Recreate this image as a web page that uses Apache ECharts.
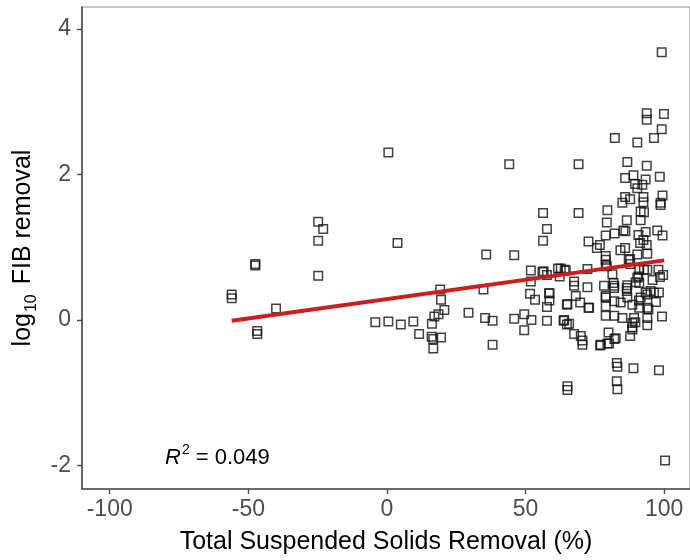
<!DOCTYPE html>
<html>
<head>
<meta charset="utf-8">
<script src="https://cdn.jsdelivr.net/npm/echarts@6/dist/echarts.min.js"></script>
<style>html,body{margin:0;padding:0;background:#fff}#chart{width:690px;height:560px}</style>
</head>
<body>
<div id="chart"></div>
<script>
// Total suspended solids removal (%)
const tssRemoval = [
  -56, -56, -47.5, -47.5, -46.8, -46.8, -40, -24.8, -23, -24.8, -24.8, 0.5, 3.8, -4.2, 0.5, 5, 9.5, 11.6,
  19.2, 19.5, 20.7, 18.6, 17.1, 16.2, 16.1, 16.7, 19.5, 16.7,
  29.4, 34.8, 35.4, 38.1, 38.1, 35.8, 45.9, 44.1, 45.9, 49.5, 49.5, 52.1, 51.9, 51.9, 51.6, 53.4, 56.1, 57.7,
  58.6, 58.6, 57.7, 57.7, 61.7, 62.3, 64.5, 64.9, 63.7, 64.9, 56.3, 57.7, 56.3, 69.1, 69.1, 65.1, 65.1,
  67.5, 67.5, 68.1, 69.7, 72.3, 72.3, 72.9, 67.5, 69.9, 70.5, 70.5, 72.7, 75.7, 76.8, 76.9, 79.9, 80.1, 82.5,
  82.9, 83.1, 88.9, 98.1, 82.9, 83.1, 100.3,
  99.1, 93.7, 93.7, 99.9, 99.1, 82.2, 90.3, 96.3, 86.7, 93.7, 98.4, 85.9, 88.9, 93.3, 89.5, 92.1, 90.3, 85.9,
  87.7, 92.5, 92.5, 99.4, 84.9, 98.7, 98.7, 79.5, 79.3, 86.5, 91.5, 91.5, 92.7, 86.0, 82.1, 78.9, 85.3, 90.7,
  93.3, 97.5, 99.4, 92.5, 91.3, 84.2, 85.9, 93.7, 90.3, 93.9, 78.9, 87.7, 87.7, 78.9, 78.9, 79.3, 87.2,
  91, 97.9, 92.7, 93.9, 98.5, 90.7, 81.3, 81.7, 86.7, 90.3, 91, 89.7, 78.3, 82, 86.5, 81.9, 86.5, 93.3, 96.3,
  98.1, 93.9, 95.1, 78.9, 78.9, 82, 84.3, 86.7, 88.5, 91.5, 91, 93.9, 94.3, 72.7, 78.9, 82, 84.9, 89.1, 93.9,
  88.5, 89.6, 93.9, 88.5, 87.7, 88.5, 82, 79.5, 77.1, 90.9, 78.9, 64.1, 62.7, 56.5, 58.5, 65.1, 63.9, 65.7,
  99.6, 99.2, 97.0, 95.8
];
// log10 FIB removal
const fibRemoval = [
  0.35, 0.30, 0.77, 0.75, -0.15, -0.19, 0.16, 1.35, 1.25, 1.09, 0.61, 2.30, 1.06, -0.03, -0.02, -0.06, -0.02, -0.19,
  0.42, 0.28, 0.14, 0.08, 0.05, -0.05, -0.23, -0.26, -0.24, -0.39,
  0.10, 0.42, 0.03, -0.01, -0.34, 0.90, 0.89, 2.14, 0.02, 0.08, -0.14, 0.00, 0.68, 0.53, 0.36, 0.28, 0.66, 0.62,
  0.37, 0.27, 0.18, -0.01, 0.71, 0.60, 0.68, 0.21, -0.01, -0.06, 1.47, 1.25, 1.09, 2.14, 1.47, -0.91, -0.96,
  0.53, 0.47, 0.33, 0.24, 0.70, 0.45, 0.17, -0.19, -0.22, -0.28, -0.34, 1.08, 0.99, 1.03, -0.35, -0.17, -0.32, -0.25,
  -0.59, -0.64, -0.66, -0.69, -0.84, -0.95, -1.93,
  3.68, 2.84, 2.75, 2.83, 2.62, 2.50, 2.44, 2.50, 2.17, 2.12, 1.97, 1.95, 1.99, 1.93, 1.87, 1.86, 1.81, 1.69,
  1.66, 1.69, 1.62, 1.71, 1.61, 1.61, 1.58, 1.51, 1.34, 1.37, 1.37, 1.49, 1.48, 1.22, 1.19, 1.16, 1.23, 1.17,
  1.21, 1.23, 1.16, 1.10, 1.06, 0.96, 0.99, 1.03, 0.90, 0.91, 0.88, 0.84, 0.77, 0.83, 0.76, 0.74, 0.83,
  0.69, 0.69, 0.69, 0.69, 0.59, 0.60, 0.63, 0.51, 0.48, 0.58, 0.51, 0.52, 0.47, 0.47, 0.44, 0.44, 0.40, 0.38, 0.38,
  0.38, 0.35, 0.40, 0.31, 0.19, 0.26, 0.24, 0.31, 0.21, 0.31, 0.17, 0.17, 0.15, 0.17, 0.06, 0.06, 0.03, 0.03, 0.03,
  -0.04, -0.03, -0.07, -0.10, -0.22, -0.13, -0.26, -0.32, -0.34, 0.27, 0.33, 0.69, 0.71, 0.67, 0.37, 0.22, 0.00, -0.05,
  0.62, 0.05, 0.25, 0.55
];
// fitted regression line end points
const fitX = [-56, 100];
const fitY = [-0.01, 0.82];
const xTicks = [-100, -50, 0, 50, 100];
const yTicks = [-2, 0, 2, 4];
const r2Label = '0.049';

const points = tssRemoval.map((x, i) => [x, fibRemoval[i]]);
const fitLine = fitX.map((x, i) => [x, fitY[i]]);

const chart = echarts.init(document.getElementById('chart'), null, {renderer: 'canvas'});
const font = 'Arial, "Liberation Sans", Helvetica, sans-serif';
chart.setOption({
  animation: false,
  backgroundColor: '#ffffff',
  grid: {left: 82, right: 0, top: 7, bottom: 67, show: true, borderColor: '#8c8c8c', borderWidth: 1, backgroundColor: '#ffffff'},
  xAxis: {
    type: 'value', min: -110, max: 109.3,
    axisLine: {show: true, onZero: false, lineStyle: {color: '#4d4d4d', width: 1.6}},
    axisTick: {show: true, length: 5, customValues: xTicks, lineStyle: {color: '#4d4d4d', width: 1.4}},
    axisLabel: {customValues: xTicks, color: '#4d4d4d', fontSize: 23, fontFamily: font, margin: 9},
    splitLine: {show: false},
    name: 'Total Suspended Solids Removal (%)', nameLocation: 'middle', nameGap: 41,
    nameTextStyle: {color: '#000', fontSize: 25, fontFamily: font}
  },
  yAxis: {
    type: 'value', min: -2.32, max: 4.3,
    axisLine: {show: true, onZero: false, lineStyle: {color: '#4d4d4d', width: 1.6}},
    axisTick: {show: true, length: 5, customValues: yTicks, lineStyle: {color: '#4d4d4d', width: 1.4}},
    axisLabel: {customValues: yTicks, color: '#4d4d4d', fontSize: 23, fontFamily: font, margin: 11},
    splitLine: {show: false},
    name: '{a|log}{s|10}{a| FIB removal}', nameLocation: 'middle', nameGap: 44, nameRotate: 90,
    nameTextStyle: {
      color: '#000', fontFamily: font,
      rich: {
        a: {fontSize: 25, fontFamily: font, color: '#000', lineHeight: 30, verticalAlign: 'bottom'},
        s: {fontSize: 16, fontFamily: font, color: '#000', lineHeight: 30, verticalAlign: 'bottom', padding: [0, 3, -4, 1]}
      }
    }
  },
  series: [
    {
      type: 'scatter', data: points, symbol: 'rect', symbolSize: 8.5, z: 2,
      itemStyle: {color: 'rgba(0,0,0,0)', borderColor: '#111', borderWidth: 1.5},
      emphasis: {disabled: true}
    },
    {
      type: 'line', data: fitLine, symbol: 'none', z: 3,
      lineStyle: {color: '#d01c1c', width: 4},
      emphasis: {disabled: true}
    }
  ],
  graphic: [{
    type: 'text', left: 165, top: 443,
    style: {
      text: '{r|R}{p|2}{t| = ' + r2Label + '}',
      rich: {
        r: {fontSize: 22, fontStyle: 'italic', fontFamily: font, fill: '#000', verticalAlign: 'bottom', lineHeight: 26},
        p: {fontSize: 14, fontFamily: font, fill: '#000', verticalAlign: 'top', lineHeight: 26, padding: [0, 0, 8, 1]},
        t: {fontSize: 22, fontFamily: font, fill: '#000', verticalAlign: 'bottom', lineHeight: 26}
      }
    }
  }]
});
</script>
</body>
</html>
